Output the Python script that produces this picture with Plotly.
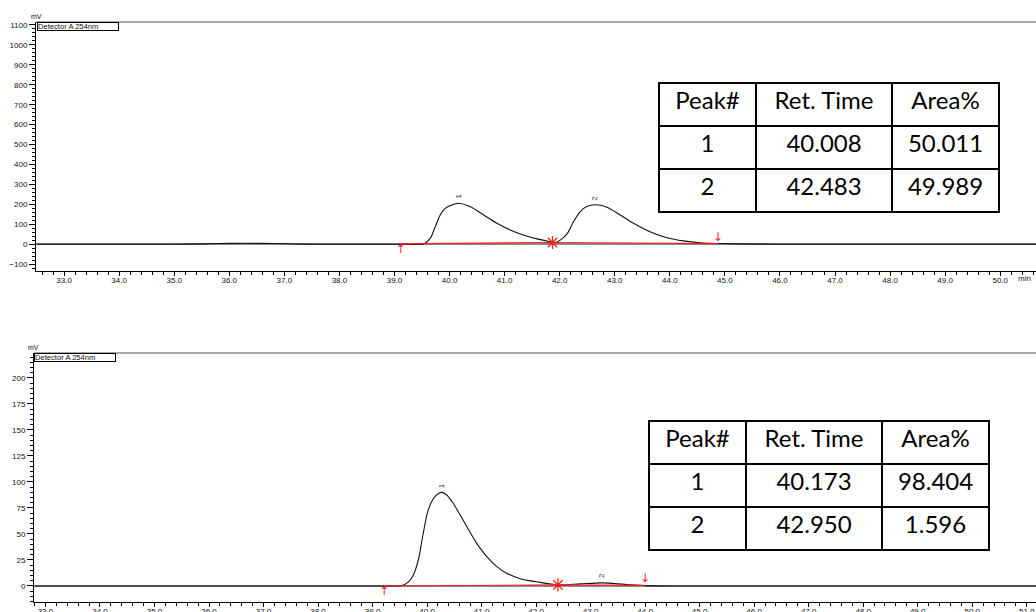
import plotly.graph_objects as go

# ---------------- data ----------------
# Chromatogram A (top, racemate)
time_a = [32.5, 33.5, 34.5, 35.3, 35.8, 36.3, 36.8, 37.3, 38.0, 38.8, 39.3, 39.53, 39.65, 39.74,
          39.83, 39.92, 40.04, 40.16, 40.37, 40.62, 40.86, 41.10, 41.34, 41.59, 41.83, 41.92,
          42.01, 42.14, 42.25, 42.37, 42.49, 42.64, 42.86, 43.10, 43.34, 43.64, 43.95, 44.25,
          44.55, 44.87, 45.5, 46.5, 48.0, 49.5, 50.7]
signal_a = [0, 0, 0, 1, 4, 5, 4, 1, 0, 0, 0, 2, 30, 88,
            147, 180, 197, 206, 189, 147, 105, 72, 47, 27, 13, 9,
            21, 55, 113, 163, 189, 198, 186, 147, 105, 63, 33, 17,
            8, 4, 1, 0, 0, 0, 0]
bl_time_a = [39.11, 41.87, 44.87]
bl_signal_a = [2, 9, 3]
peak_time_a = [40.16, 42.64]
peak_height_a = [206, 198]

# Chromatogram B (bottom, enriched sample)
time_b = [32.8, 34.0, 35.0, 36.0, 37.0, 38.0, 39.0, 39.4, 39.54, 39.66, 39.75, 39.84, 39.93,
          40.02, 40.12, 40.21, 40.27, 40.36, 40.48, 40.61, 40.73, 40.91, 41.10, 41.28, 41.46,
          41.71, 42.01, 42.40, 42.81, 43.21, 43.63, 44.00, 44.6, 45.5, 47.0, 48.5, 50.0, 51.2]
signal_b = [0, 0, 0, 0, 0, 0, 0, 0, 0.5, 4, 10.6, 25, 50.7,
            73, 84.3, 89, 90, 87.5, 79.5, 68, 57, 41, 28, 18.6, 12.2,
            7, 4, 1, 2, 3, 1.5, 0.3, 0, 0, 0, 0, 0, 0]
bl_time_b = [39.21, 42.40, 44.00]
bl_signal_b = [0, 1, 0.5]
peak_time_b = [40.27, 43.21]
peak_height_b = [90, 3]

peak_labels = ["1", "2"]

# Peak tables
table_header = ["Peak#", "Ret. Time", "Area%"]
peak_no = ["1", "2"]
ret_a = ["40.008", "42.483"]
area_a = ["50.011", "49.989"]
ret_b = ["40.173", "42.950"]
area_b = ["98.404", "1.596"]

# ---------------- figure ----------------
W, H = 1036, 612
TICKFONT = dict(family="Liberation Sans Narrow, Liberation Sans, Arial", size=8, color="#111")
RED = "rgb(255,30,30)"

fig = go.Figure()

def add_chrom(t, s, blt, bls, pt, ph, xa, ya):
    fig.add_trace(go.Scatter(x=t, y=s, mode="lines", line=dict(color="#111", width=1.1, shape="spline", smoothing=0.8),
                             xaxis=xa, yaxis=ya, hoverinfo="skip", showlegend=False))
    fig.add_trace(go.Scatter(x=blt, y=bls, mode="lines", line=dict(color=RED, width=1.2),
                             xaxis=xa, yaxis=ya, hoverinfo="skip", showlegend=False))
    # start arrow, valley asterisk, end arrow
    fig.add_trace(go.Scatter(x=[blt[0]], y=[bls[0]], mode="text", text=["↑"], textposition="bottom center",
                             textfont=dict(color=RED, size=12, family="DejaVu Sans"),
                             xaxis=xa, yaxis=ya, hoverinfo="skip", showlegend=False))
    fig.add_trace(go.Scatter(x=[blt[1]], y=[bls[1]], mode="markers",
                             marker=dict(symbol="asterisk-open", size=11, color=RED, line=dict(color=RED, width=1.3)),
                             xaxis=xa, yaxis=ya, hoverinfo="skip", showlegend=False))
    fig.add_trace(go.Scatter(x=[blt[2]], y=[bls[2]], mode="text", text=["↓"], textposition="top center",
                             textfont=dict(color=RED, size=12, family="DejaVu Sans"),
                             xaxis=xa, yaxis=ya, hoverinfo="skip", showlegend=False))
    for tt, hh, lab in zip(pt, ph, peak_labels):
        fig.add_annotation(x=tt, y=hh, xref=xa, yref=ya, text=lab, showarrow=False, textangle=-90,
                           yshift=7, font=dict(size=8, color="#333", family="Liberation Sans"))

add_chrom(time_a, signal_a, bl_time_a, bl_signal_a, peak_time_a, peak_height_a, "x", "y")
add_chrom(time_b, signal_b, bl_time_b, bl_signal_b, peak_time_b, peak_height_b, "x2", "y2")

def table(ret, area, x0, x1, ytop):
    return go.Table(
        domain=dict(x=[x0 / W, x1 / W], y=[1 - (ytop + 132) / H, 1 - ytop / H]),
        columnwidth=[97, 136, 107],
        header=dict(values=table_header, height=43, fill_color="white", align="center",
                    line=dict(color="black", width=2),
                    font=dict(family="Lato, Carlito, sans-serif", size=24, color="black")),
        cells=dict(values=[peak_no, ret, area], height=43, fill_color="white", align="center",
                   line=dict(color="black", width=2),
                   font=dict(family="Lato, Carlito, sans-serif", size=24, color="black")),
    )

fig.add_trace(table(ret_a, area_a, 659, 999, 83))
fig.add_trace(table(ret_b, area_b, 649, 989, 421))

xcommon = dict(showline=True, linecolor="black", linewidth=1, ticks="outside", ticklen=4, tickcolor="black",
               dtick=1, tick0=0, tickformat=".1f", tickfont=TICKFONT, showgrid=False, zeroline=False,
               ticklabelstandoff=-3,
               minor=dict(dtick=0.2, ticks="outside", ticklen=3, tickcolor="black", showgrid=False),
               fixedrange=True, automargin=False)
ycommon = dict(showline=True, linecolor="black", linewidth=1, ticks="outside", ticklen=6, tickcolor="black",
               tickfont=TICKFONT, showgrid=False, zeroline=True, zerolinecolor="#8a8a8a", zerolinewidth=2,
               fixedrange=True, automargin=False)

fig.update_layout(
    width=W, height=H, margin=dict(l=0, r=0, t=0, b=0, autoexpand=False),
    paper_bgcolor="white", plot_bgcolor="white",
    xaxis=dict(xcommon, domain=[36 / W, 1], range=[32.49, 50.65], anchor="y"),
    yaxis=dict(ycommon, domain=[1 - 271 / H, 1 - 22 / H], range=[-134, 1115], dtick=100, anchor="x",
               minor=dict(dtick=20, ticks="outside", ticklen=3, tickcolor="black", showgrid=False)),
    xaxis2=dict(xcommon, domain=[34 / W, 1], range=[32.79, 51.17], anchor="y2"),
    yaxis2=dict(ycommon, domain=[1 - 602 / H, 1 - 353 / H], range=[-15.4, 224], dtick=25, anchor="x2",
                minor=dict(dtick=5, ticks="outside", ticklen=3, tickcolor="black", showgrid=False)),
    showlegend=False,
)

# frame top lines
for xr, yr in (("x domain", "y domain"), ("x2 domain", "y2 domain")):
    fig.add_shape(type="line", xref=xr, yref=yr, x0=0, x1=1, y0=1, y1=1,
                  line=dict(color="#8a8a8a", width=1.5))

# unit labels and detector boxes
for xpx, ypx in ((36, 16), (33, 347)):
    fig.add_annotation(x=xpx / W, y=1 - ypx / H, xref="paper", yref="paper", text="mV", showarrow=False,
                       xanchor="center", yanchor="middle", font=dict(size=7, color="#111", family="Liberation Sans"))
for xpx, ypx in ((37, 22), (34, 353)):
    fig.add_annotation(x=xpx / W, y=1 - ypx / H, xref="paper", yref="paper", text="Detector A 254nm",
                       showarrow=False, xanchor="left", yanchor="top", align="left", width=80, height=7,
                       bordercolor="black", borderwidth=1, borderpad=0, bgcolor="white",
                       font=dict(size=7.6, color="#111", family="Liberation Sans Narrow, Liberation Sans"))
fig.add_annotation(x=1016 / W, y=1 - 279 / H, xref="paper", yref="paper", text="min", showarrow=False,
                   xanchor="left", yanchor="middle", font=TICKFONT)

fig.write_html("out.html", config={"displayModeBar": False, "staticPlot": True},
               post_script="document.body.style.margin='0';document.body.style.overflow='hidden';")
